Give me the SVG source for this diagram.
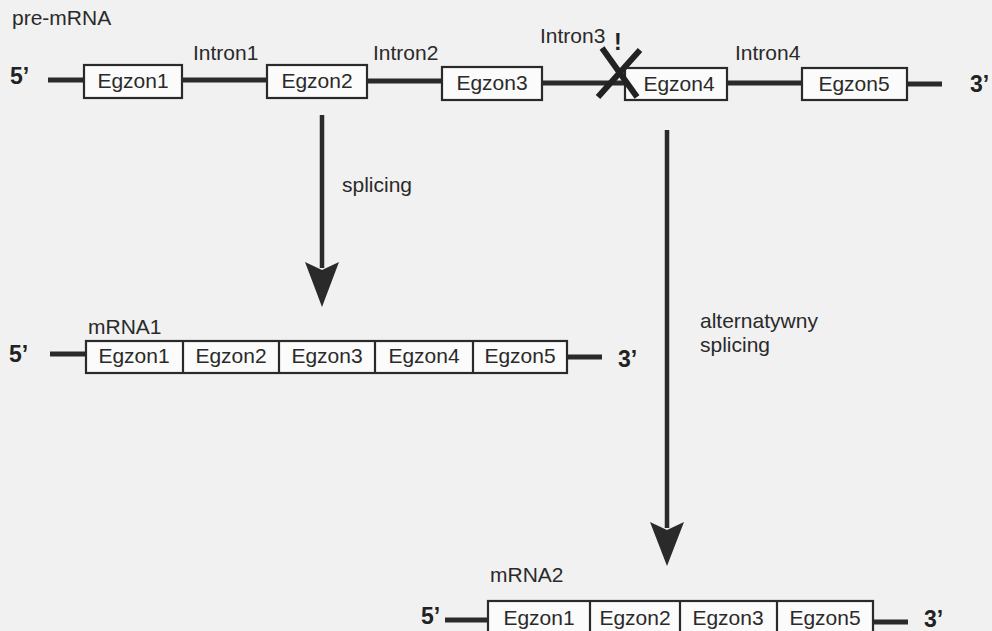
<svg xmlns="http://www.w3.org/2000/svg" width="992" height="631" viewBox="0 0 992 631">
  <defs>
    <style>
      .lbl { font-family: "Liberation Sans", Arial, sans-serif; font-size: 21px; fill: #2a2a2a; }
      .end { font-family: "Liberation Sans", Arial, sans-serif; font-size: 23px; font-weight: bold; fill: #222; }
      .mid { text-anchor: middle; }
      .box { fill: #fbfbfb; stroke: #2a2a2a; stroke-width: 2.2; }
      .div { stroke: #2a2a2a; stroke-width: 2.2; }
      .rna { stroke: #2a2a2a; stroke-width: 5; fill: none; }
      .shaft { stroke: #2a2a2a; stroke-width: 4.5; fill: none; }
      .head { fill: #2a2a2a; }
      .cross { stroke: #222; stroke-width: 6; stroke-linecap: butt; }
    </style>
  </defs>

  <rect width="992" height="631" fill="#f1f1f1"/>

  <!-- pre-mRNA: exons joined by introns -->
  <g id="pre-mRNA">
    <text class="lbl" x="12" y="25">pre-mRNA</text>
    <text class="end" x="10" y="84">5’</text>
    <path class="rna" d="M48 80H84 M182 80H267 M367 81H442 M542 83H625 M727 83H802 M907 84H942"/>
    <text class="lbl" x="193" y="60">Intron1</text>
    <text class="lbl" x="373" y="60">Intron2</text>
    <text class="lbl" x="540" y="43">Intron3</text>
    <text class="end" x="614" y="50">!</text>
    <text class="lbl" x="735" y="60">Intron4</text>
    <text class="end" x="970" y="92">3’</text>
  </g>
  <g id="pre-egzon1">
    <rect class="box" x="84" y="65" width="98" height="33"/>
    <text class="lbl mid" x="133" y="88">Egzon1</text>
  </g>
  <g id="pre-egzon2">
    <rect class="box" x="267" y="65" width="100" height="33"/>
    <text class="lbl mid" x="317" y="88">Egzon2</text>
  </g>
  <g id="pre-egzon3">
    <rect class="box" x="442" y="67" width="100" height="33"/>
    <text class="lbl mid" x="492" y="90">Egzon3</text>
  </g>
  <g id="pre-egzon4">
    <rect class="box" x="625" y="68" width="102" height="32"/>
    <text class="lbl mid" x="679" y="91">Egzon4</text>
  </g>
  <g id="pre-egzon5">
    <rect class="box" x="802" y="68" width="105" height="32"/>
    <text class="lbl mid" x="854" y="91">Egzon5</text>
  </g>
  <!-- blocked splice site at intron 3 -->
  <g id="blocked-site">
    <line class="cross" x1="602" y1="48" x2="637" y2="97"/>
    <line class="cross" x1="640" y1="50" x2="598" y2="97"/>
  </g>

  <!-- mRNA1: all five exons -->
  <g id="mRNA1">
    <text class="lbl" x="88" y="334">mRNA1</text>
    <text class="end" x="9" y="362">5’</text>
    <path class="rna" d="M50 354H86 M567 357H602"/>
    <rect class="box" x="86" y="341" width="481" height="32"/>
    <path class="div" d="M183 341V373 M279 341V373 M375 341V373 M473 341V373"/>
    <text class="lbl mid" x="134" y="363">Egzon1</text>
    <text class="lbl mid" x="231" y="363">Egzon2</text>
    <text class="lbl mid" x="327" y="363">Egzon3</text>
    <text class="lbl mid" x="424" y="363">Egzon4</text>
    <text class="lbl mid" x="520" y="363">Egzon5</text>
    <text class="end" x="618" y="367">3’</text>
  </g>

  <!-- mRNA2: exon 4 skipped -->
  <g id="mRNA2">
    <text class="lbl" x="490" y="582">mRNA2</text>
    <text class="end" x="421" y="624">5’</text>
    <path class="rna" d="M445 620H488 M873 622H908"/>
    <rect class="box" x="488" y="601" width="385" height="34"/>
    <path class="div" d="M590 601V635 M680 601V635 M777 601V635"/>
    <text class="lbl mid" x="539" y="625">Egzon1</text>
    <text class="lbl mid" x="635" y="625">Egzon2</text>
    <text class="lbl mid" x="728" y="625">Egzon3</text>
    <text class="lbl mid" x="825" y="625">Egzon5</text>
    <text class="end" x="924" y="627">3’</text>
  </g>

  <!-- processing arrows -->
  <g id="connectors">
    <g id="splicing-arrow">
      <line class="shaft" x1="322" y1="115" x2="322" y2="268"/>
      <polygon class="head" points="305,262 322,270 339,262 322,307"/>
      <text class="lbl" x="342" y="192">splicing</text>
    </g>
    <g id="alt-splicing-arrow">
      <line class="shaft" x1="667" y1="130" x2="667" y2="528"/>
      <polygon class="head" points="650,522 667,530 684,522 667,566"/>
      <text class="lbl" x="700" y="328">alternatywny</text>
      <text class="lbl" x="700" y="352">splicing</text>
    </g>
  </g>
</svg>
